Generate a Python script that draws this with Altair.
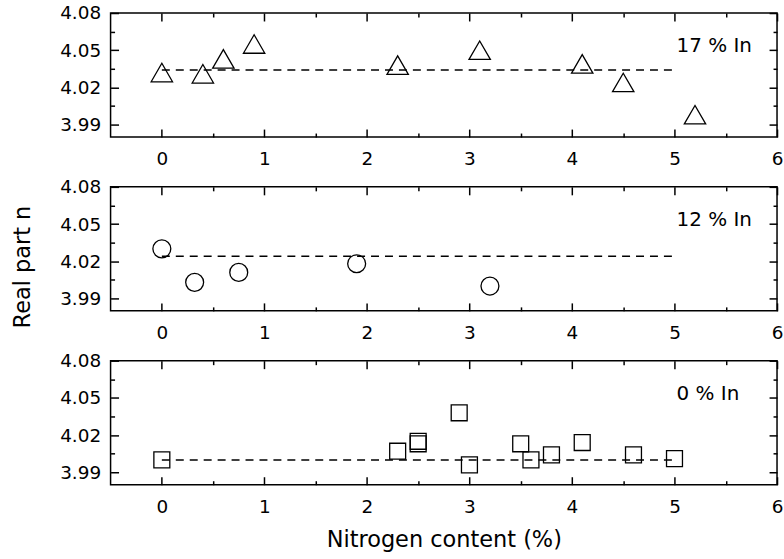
import altair as alt
import pandas as pd

FONT = "DejaVu Sans"

# ---- axis ticks ----
x_major = [0, 1, 2, 3, 4, 5, 6]
x_minor = [0.5, 1.5, 2.5, 3.5, 4.5, 5.5]
y_major = [3.99, 4.02, 4.05, 4.08]
y_minor = [4.005, 4.035, 4.065]
x_domain = [-0.5, 6]
y_domain = [3.98, 4.08]

# ---- data ----
x17 = [0, 0.4, 0.6, 0.9, 2.3, 3.1, 4.1, 4.5, 5.2]
n17 = [4.032, 4.031, 4.043, 4.055, 4.038, 4.050, 4.039, 4.024, 3.998]

x12 = [0, 0.32, 0.75, 1.9, 3.2]
n12 = [4.030, 4.003, 4.011, 4.018, 4.000]

x0 = [0, 2.3, 2.5, 2.5, 2.9, 3.0, 3.5, 3.6, 3.8, 4.1, 4.6, 5.0]
n0 = [4.000, 4.007, 4.013, 4.015, 4.038, 3.996, 4.013, 4.000, 4.004, 4.014, 4.004, 4.001]

fit_x = [0, 5]
fit_levels = [4.034, 4.024, 4.000]

panel_labels = ["17 % In", "12 % In", "0 % In"]
label_x = 5.02
label_y = 4.053


def axis(orient, values, size, labels=False, title=None, **extra):
    kw = dict(orient=orient, values=values, tickSize=size, offset=-size,
              domain=False, grid=False, ticks=True, tickColor="black",
              tickWidth=1.5, labels=labels, title=title)
    if labels:
        kw.update(labelFont=FONT, labelFontSize=18.5, labelColor="black",
                  labelFlush=False, labelOverlap=False)
    if title is not None:
        kw.update(titleFont=FONT, titleFontSize=22.5, titleFontWeight="normal",
                  titleColor="black")
    kw.update(extra)
    return alt.Axis(**kw)


def panel(xs, ns, shape, size, level, label, x_title=False, y_title=False):
    xs_scale = alt.Scale(domain=x_domain, nice=False, zero=False)
    ys_scale = alt.Scale(domain=y_domain, nice=False, zero=False)
    pts = pd.DataFrame({"x": xs, "n": ns})
    fit = pd.DataFrame({"x": fit_x, "n": [level] * len(fit_x)})
    lab = pd.DataFrame({"x": [label_x], "n": [label_y], "t": [label]})

    if x_title:
        bx = axis("bottom", x_major, 8, labels=True, title="Nitrogen content (%)",
                  format="d", labelPadding=13, titleY=70,
                  titleBaseline="alphabetic", titleAlign="center")
    else:
        bx = axis("bottom", x_major, 8, labels=True, format="d", labelPadding=13)
    if y_title:
        ly = axis("left", y_major, 8, labels=True, title="Real part n",
                  format=".2f", labelPadding=10, titleAngle=270, titleX=-89,
                  titleY=80, titleAlign="center", titleBaseline="alphabetic")
    else:
        ly = axis("left", y_major, 8, labels=True, format=".2f", labelPadding=10)

    points = alt.Chart(pts).mark_point(
        shape=shape, size=size, filled=False, stroke="black",
        strokeWidth=1.3, opacity=1
    ).encode(
        x=alt.X("x:Q", scale=xs_scale, axis=bx),
        y=alt.Y("n:Q", scale=ys_scale, axis=ly),
    )
    line = alt.Chart(fit).mark_line(
        color="black", strokeWidth=1.5, strokeDash=[8, 6]
    ).encode(
        x=alt.X("x:Q", scale=xs_scale, axis=axis("bottom", x_minor, 4)),
        y=alt.Y("n:Q", scale=ys_scale, axis=axis("left", y_minor, 4)),
    )
    text = alt.Chart(lab).mark_text(
        font=FONT, fontSize=20, align="left", baseline="middle", color="black"
    ).encode(
        x=alt.X("x:Q", scale=xs_scale, axis=axis("top", x_major, 8)),
        y=alt.Y("n:Q", scale=ys_scale, axis=axis("right", y_major, 8)),
        text="t:N",
    )
    ghost = alt.Chart(pts).mark_point(opacity=0).encode(
        x=alt.X("x:Q", scale=xs_scale, axis=axis("top", x_minor, 4)),
        y=alt.Y("n:Q", scale=ys_scale, axis=axis("right", y_minor, 4)),
    )
    return alt.layer(line, points, text, ghost).resolve_axis(
        x="independent", y="independent"
    ).properties(width=669, height=124.5)


p1 = panel(x17, n17, "triangle-up", 460, fit_levels[0], panel_labels[0])
p2 = panel(x12, n12, "circle", 324, fit_levels[1], panel_labels[1], y_title=True)
p3 = panel(x0, n0, "square", 256, fit_levels[2], panel_labels[2], x_title=True)

chart = alt.vconcat(p1, p2, p3, spacing=49.5, bounds="flush").properties(
    padding={"left": 11, "top": 2, "right": 0, "bottom": 0},
    background="white",
).configure_view(stroke="black", strokeWidth=1.5)

chart.save("out.html", embed_options={"renderer": "svg", "actions": False})
